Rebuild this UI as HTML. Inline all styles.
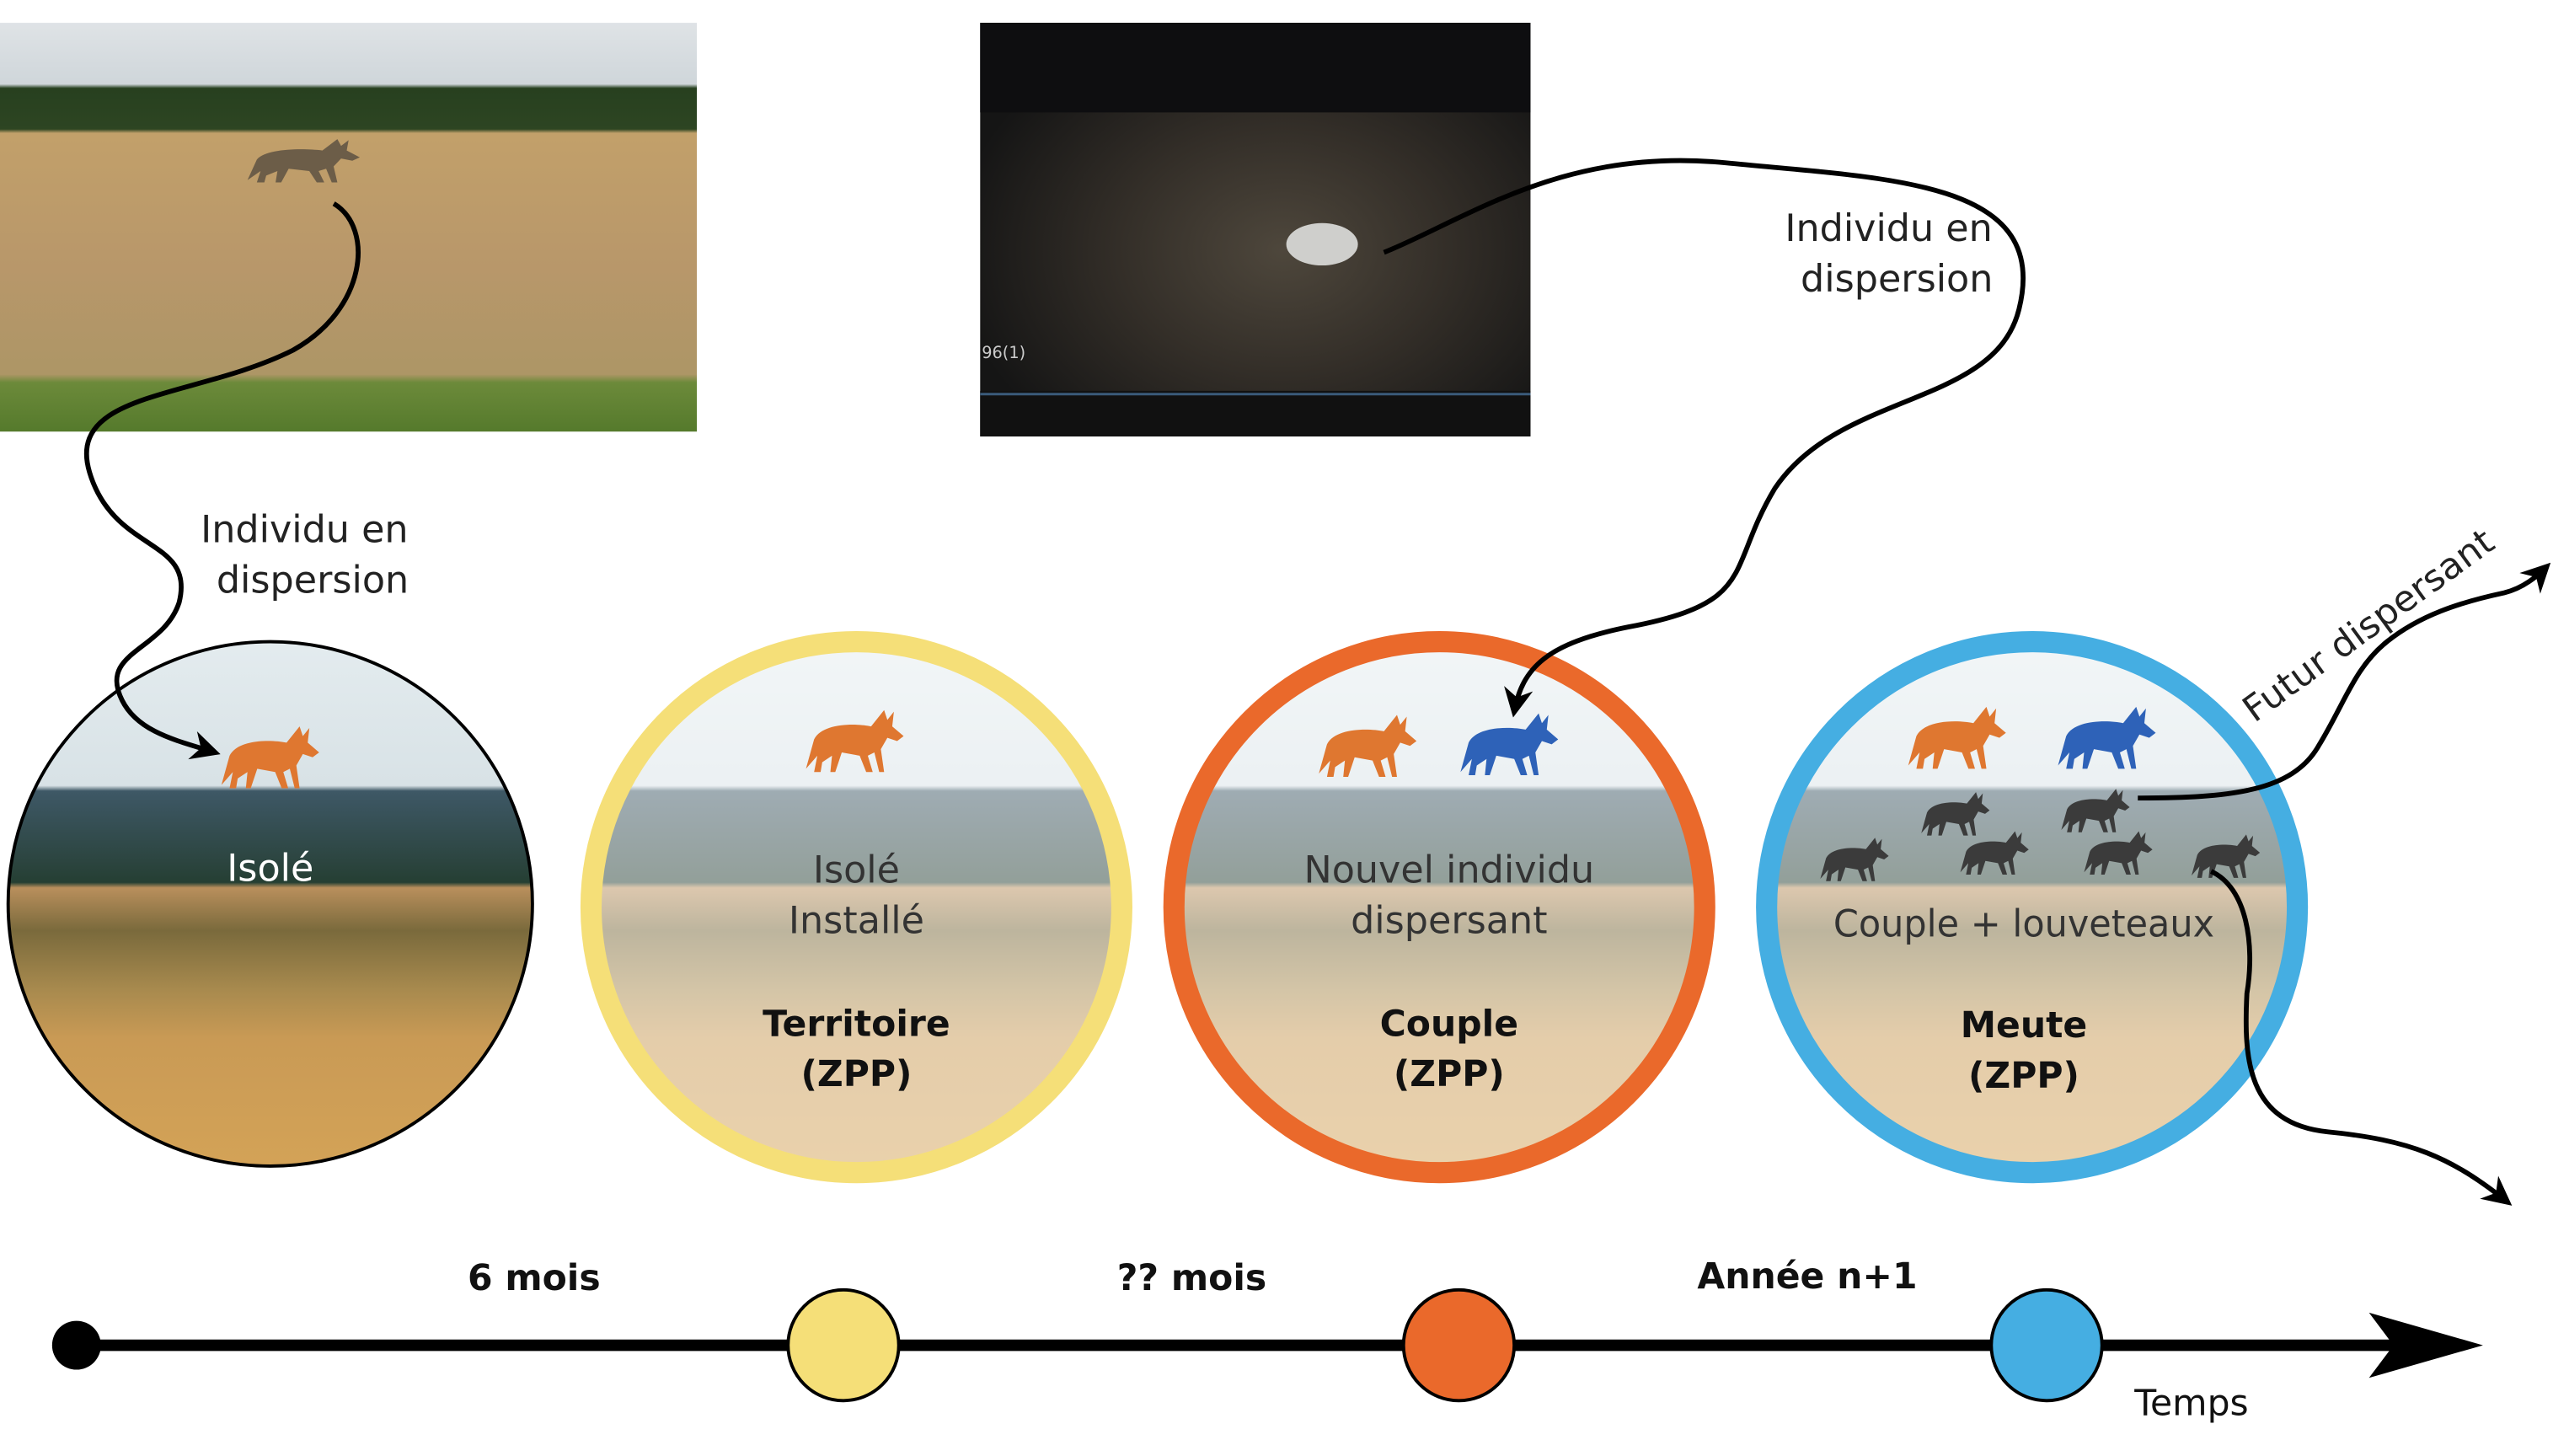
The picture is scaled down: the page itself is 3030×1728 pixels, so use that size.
<!DOCTYPE html>
<html><head><meta charset="utf-8"><style>html,body{margin:0;padding:0;background:#fff}svg{display:block}</style></head>
<body>
<svg width="3030" height="1728" viewBox="0 0 1568 894" preserveAspectRatio="none" xmlns="http://www.w3.org/2000/svg" font-family="'DejaVu Sans','Liberation Sans',sans-serif">
<defs>
<linearGradient id="land" x1="0" y1="0" x2="0" y2="1">
<stop offset="0" stop-color="#e4ecef"/><stop offset="0.28" stop-color="#d8e2e6"/>
<stop offset="0.29" stop-color="#3e5866"/><stop offset="0.42" stop-color="#2c4540"/>
<stop offset="0.46" stop-color="#253f33"/><stop offset="0.47" stop-color="#b98f5c"/>
<stop offset="0.55" stop-color="#7a6a3c"/><stop offset="0.66" stop-color="#a88a4e"/>
<stop offset="0.75" stop-color="#c99a55"/><stop offset="1" stop-color="#d4a357"/>
</linearGradient>
<linearGradient id="p1" x1="0" y1="0" x2="0" y2="1">
<stop offset="0" stop-color="#dfe3e6"/><stop offset="0.15" stop-color="#cfd6da"/>
<stop offset="0.16" stop-color="#27401f"/><stop offset="0.26" stop-color="#2d4522"/>
<stop offset="0.27" stop-color="#c2a06a"/><stop offset="0.6" stop-color="#b8976a"/>
<stop offset="0.86" stop-color="#ad9666"/><stop offset="0.88" stop-color="#6c8a3a"/><stop offset="1" stop-color="#557a2c"/>
</linearGradient>
<radialGradient id="p2" cx="0.55" cy="0.55" r="0.6">
<stop offset="0" stop-color="#4e473c"/><stop offset="0.5" stop-color="#332e28"/><stop offset="1" stop-color="#151515"/>
</radialGradient>
<path id="wolf" d="M5,20 C10,10 30,10 40,12 L48,2 L50,8 L54,3 L53,12 L60,18 L56,21 L50,19 L46,26 L48,40 L45,40 L42,28 L38,30 L41,40 L37,40 L33,30 L22,28 L18,40 L15,40 L16,30 L10,34 L9,40 L5,40 L7,30 L0,38 Z"/>
<clipPath id="c1"><circle cx="166" cy="555" r="161"/></clipPath>
<clipPath id="c2"><circle cx="526" cy="557" r="163"/></clipPath>
<clipPath id="c3"><circle cx="884" cy="557" r="163"/></clipPath>
<clipPath id="c4"><circle cx="1248" cy="557" r="163"/></clipPath>
<marker id="ah" viewBox="0 0 10 10" refX="8" refY="5" markerWidth="6" markerHeight="6" orient="auto"><path d="M0,0 L10,5 L0,10 L3,5 Z" fill="#000"/></marker>
</defs>

<!-- photo 1 -->
<rect x="0" y="14" width="428" height="251" fill="url(#p1)"/>
<use href="#wolf" fill="#6c5d48" transform="translate(152,84) scale(1.15,0.7)"/>
<!-- photo 2 -->
<rect x="602" y="14" width="338" height="254" fill="url(#p2)"/>
<rect x="602" y="14" width="338" height="55" fill="#0e0e10"/>
<rect x="602" y="240" width="338" height="28" fill="#111"/>
<line x1="602" y1="242" x2="940" y2="242" stroke="#3a5a7a" stroke-width="1.5"/>
<ellipse cx="812" cy="150" rx="22" ry="13" fill="#cfcfcc"/>
<text x="603" y="220" font-size="10" fill="#ccc">96(1)</text>

<!-- circles -->
<g clip-path="url(#c1)"><rect x="0" y="390" width="340" height="330" fill="url(#land)"/></g>
<circle cx="166" cy="555" r="161" fill="none" stroke="#000" stroke-width="2"/>
<g clip-path="url(#c2)"><rect x="360" y="390" width="340" height="330" fill="url(#land)"/><rect x="360" y="390" width="340" height="330" fill="#fff" opacity="0.5"/></g>
<circle cx="526" cy="557" r="163" fill="none" stroke="#f5df78" stroke-width="13"/>
<g clip-path="url(#c3)"><rect x="715" y="390" width="340" height="330" fill="url(#land)"/><rect x="715" y="390" width="340" height="330" fill="#fff" opacity="0.5"/></g>
<circle cx="884" cy="557" r="163" fill="none" stroke="#ea692b" stroke-width="13"/>
<g clip-path="url(#c4)"><rect x="1080" y="390" width="340" height="330" fill="url(#land)"/><rect x="1080" y="390" width="340" height="330" fill="#fff" opacity="0.5"/></g>
<circle cx="1248" cy="557" r="163" fill="none" stroke="#45aee2" stroke-width="13"/>

<!-- wolves -->
<use href="#wolf" fill="#df7730" transform="translate(136,444)"/>
<use href="#wolf" fill="#df7730" transform="translate(495,434)"/>
<use href="#wolf" fill="#df7730" transform="translate(810,437)"/>
<use href="#wolf" fill="#2e62b8" transform="translate(897,436)"/>
<use href="#wolf" fill="#df7730" transform="translate(1172,432)"/>
<use href="#wolf" fill="#2e62b8" transform="translate(1264,432)"/>
<g fill="#3b3b3b">
<use href="#wolf" transform="translate(1180,485) scale(0.7)"/>
<use href="#wolf" transform="translate(1266,483) scale(0.7)"/>
<use href="#wolf" transform="translate(1118,513) scale(0.7)"/>
<use href="#wolf" transform="translate(1204,509) scale(0.7)"/>
<use href="#wolf" transform="translate(1280,509) scale(0.7)"/>
<use href="#wolf" transform="translate(1346,511) scale(0.7)"/>
</g>

<!-- circle labels -->
<g font-size="23" text-anchor="middle">
<text x="166" y="541" fill="#fff">Isolé</text>
<text x="526" y="542" fill="#333">Isolé</text>
<text x="526" y="573" fill="#333">Installé</text>
<text x="890" y="542" fill="#333">Nouvel individu</text>
<text x="890" y="573" fill="#333">dispersant</text>
<text x="1243" y="575" fill="#333" textLength="234" lengthAdjust="spacingAndGlyphs">Couple + louveteaux</text>
<g font-weight="bold" fill="#111" font-size="22">
<text x="526" y="636">Territoire</text><text x="526" y="667">(ZPP)</text>
<text x="890" y="636">Couple</text><text x="890" y="667">(ZPP)</text>
<text x="1243" y="637">Meute</text><text x="1243" y="668">(ZPP)</text>
</g>
</g>

<!-- curves -->
<g fill="none" stroke="#000" stroke-width="3" marker-end="url(#ah)">
<path d="M205,125 C230,140 225,190 180,215 C120,245 40,240 55,290 C70,340 120,330 110,370 C100,400 60,400 75,430 C85,450 110,455 132,462"/>
<path d="M850,155 C900,135 960,90 1060,100 C1160,110 1260,110 1240,190 C1225,250 1130,240 1090,300 C1060,350 1080,370 1000,385 C950,395 935,410 930,437"/>
<path d="M1313,490 C1370,490 1408,486 1424,458 C1440,432 1446,410 1466,394 C1486,378 1510,370 1538,364 C1550,361 1558,354 1564,348"/>
<path d="M1358,535 C1380,545 1385,580 1380,610 C1378,650 1380,690 1430,695 C1480,700 1505,710 1540,738"/>
</g>
<g font-size="23" fill="#222" text-anchor="middle">
<text x="187" y="333">Individu en</text><text x="192" y="364">dispersion</text>
<text x="1160" y="148">Individu en</text><text x="1165" y="179">dispersion</text>
<text x="1459" y="390" transform="rotate(-36 1459 390)" font-size="22" textLength="184" lengthAdjust="spacingAndGlyphs">Futur dispersant</text>
</g>

<!-- timeline -->
<line x1="47" y1="826" x2="1480" y2="826" stroke="#000" stroke-width="7"/>
<path d="M1455,806 L1525,826 L1455,846 L1470,826 Z" fill="#000"/>
<circle cx="47" cy="826" r="15" fill="#000"/>
<circle cx="518" cy="826" r="34" fill="#f5df78" stroke="#000" stroke-width="2"/>
<circle cx="896" cy="826" r="34" fill="#ea692b" stroke="#000" stroke-width="2"/>
<circle cx="1257" cy="826" r="34" fill="#45aee2" stroke="#000" stroke-width="2"/>
<g font-size="22" font-weight="bold" text-anchor="middle" fill="#111">
<text x="328" y="792">6 mois</text><text x="732" y="792">?? mois</text><text x="1110" y="791">Année n+1</text>
</g>
<text x="1346" y="869" font-size="22" text-anchor="middle" fill="#111">Temps</text>
</svg>
</body></html>
